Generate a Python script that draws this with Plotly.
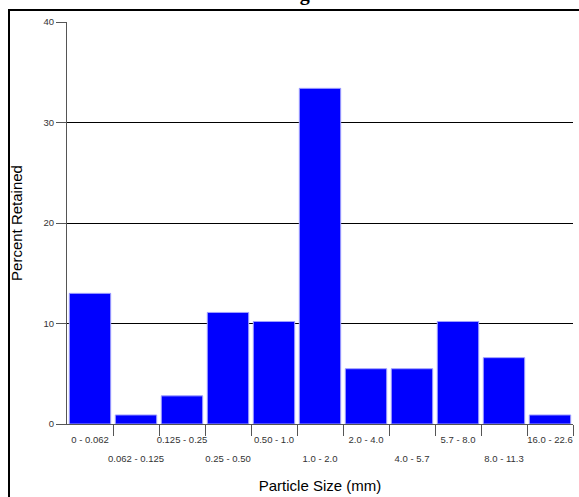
import plotly.graph_objects as go

categories = ["0 - 0.062", "0.062 - 0.125", "0.125 - 0.25", "0.25 - 0.50", "0.50 - 1.0",
              "1.0 - 2.0", "2.0 - 4.0", "4.0 - 5.7", "5.7 - 8.0", "8.0 - 11.3", "16.0 - 22.6"]
percent_retained = [13.0, 0.9, 2.8, 11.1, 10.2, 33.4, 5.5, 5.5, 10.2, 6.6, 0.9]
y_ticks = [0, 10, 20, 30, 40]

n = len(categories)
xpos = list(range(n))
even_pos = [i for i in xpos if i % 2 == 0]
odd_pos = [i for i in xpos if i % 2 == 1]

W, H = 579, 497
L, R, T, B = 67, 6, 22, 73
pw, ph = W - L - R, H - T - B

fig = go.Figure()
fig.add_trace(go.Bar(
    x=xpos, y=percent_retained,
    marker=dict(color="#0000FF", line=dict(color="#A0A0FF", width=1)),
    width=0.9, showlegend=False, hoverinfo="skip"))
for ax in ("x2", "x3"):
    fig.add_trace(go.Scatter(x=[-0.5, n - 0.5], y=[0, 0], xaxis=ax, mode="markers",
                             marker=dict(opacity=0), showlegend=False, hoverinfo="skip"))

tickfont = dict(family="Liberation Sans Narrow, Arial Narrow, Liberation Sans, Arial", size=9.5, color="#333333")

fig.update_layout(
    width=W, height=H,
    margin=dict(l=L, r=R, t=T, b=B, pad=0, autoexpand=False),
    paper_bgcolor="white", plot_bgcolor="white",
    xaxis=dict(range=[-0.5, n - 0.5], tickmode="array", tickvals=even_pos,
               ticktext=[categories[i] for i in even_pos],
               ticks="", showgrid=False, zeroline=False, tickangle=0, automargin=False,
               ticklabelstandoff=7,
               showline=True, linecolor="#555555", linewidth=1,
               tickfont=tickfont,
               title=dict(text="Particle Size (mm)", standoff=36,
                          font=dict(family="Liberation Sans, Arial", size=15, color="black"))),
    xaxis2=dict(overlaying="x", range=[-0.5, n - 0.5], tickmode="array",
                tickvals=[i + 0.5 for i in range(n)], showticklabels=False,
                ticks="outside", ticklen=11, tickcolor="#555555", tickwidth=1, automargin=False,
                showgrid=False, zeroline=False, showline=False, side="bottom", anchor="y"),
    xaxis3=dict(overlaying="x", range=[-0.5, n - 0.5], tickmode="array",
                tickvals=odd_pos, ticktext=[categories[i] for i in odd_pos],
                ticks="", tickangle=0, automargin=False, ticklabelstandoff=27,
                tickfont=tickfont,
                showgrid=False, zeroline=False, showline=False, side="bottom", anchor="y"),
    yaxis=dict(range=[0, 40], tickmode="array", tickvals=y_ticks, automargin=False,
               showgrid=True, gridcolor="black", gridwidth=1,
               ticks="outside", ticklen=10, tickcolor="#555555",
               showline=True, linecolor="#555555", linewidth=1, zeroline=False,
               tickfont=tickfont,
               title=dict(text="Percent Retained", standoff=17,
                          font=dict(family="Liberation Sans, Arial", size=15, color="black"))),
    bargap=0.1,
)

# outer frame
fig.add_shape(type="rect", xref="paper", yref="paper",
              x0=(9 - L) / pw, x1=1.2, y0=-0.5, y1=(H - B - 10) / ph,
              line=dict(color="black", width=2), fillcolor="rgba(0,0,0,0)", layer="above")

# title, cropped at the top edge as in the reference
fig.add_annotation(text="<b>Stage 8</b>", xref="paper", yref="paper",
                   x=(303 - L) / pw, y=(H - B - 7) / ph, yanchor="bottom", showarrow=False,
                   font=dict(family="Liberation Serif, Times New Roman", size=20, color="black"))

fig.write_html("out.html", post_script="document.body.style.margin='0';",
               config={"displayModeBar": False})
